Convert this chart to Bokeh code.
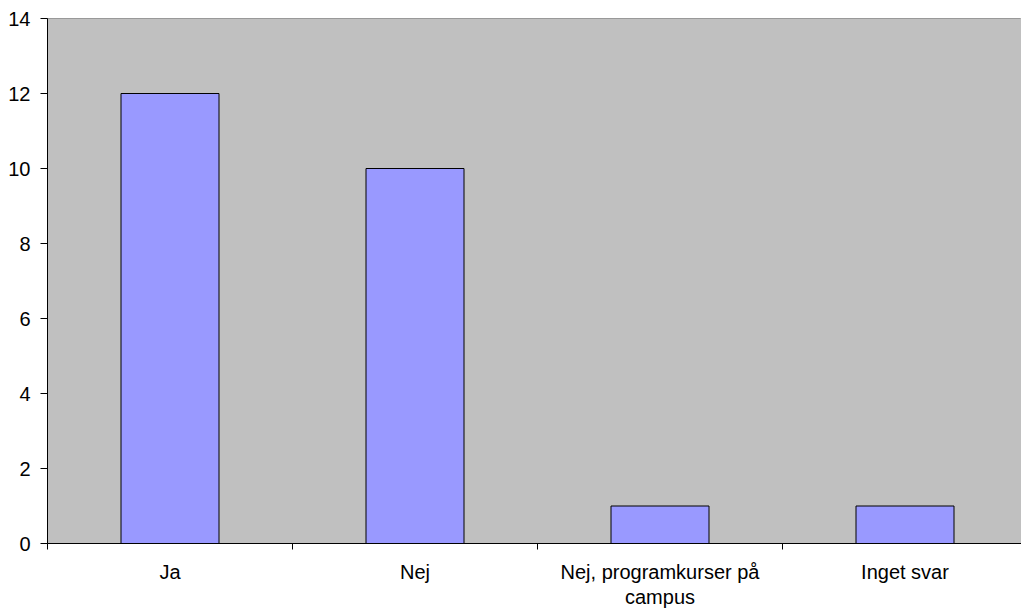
from bokeh.plotting import figure
from bokeh.models import FixedTicker, Range1d
from bokeh.embed import file_html
from bokeh.resources import INLINE

categories = ["Ja", "Nej", "Nej, programkurser på\ncampus", "Inget svar"]
values = [12, 10, 1, 1]
y_ticks = [0, 2, 4, 6, 8, 10, 12, 14]

FONT = "Liberation Sans"

positions = [i + 0.5 for i in range(len(categories))]

p = figure(width=1021, height=610, output_backend="svg", toolbar_location=None,
           x_range=Range1d(0, 974 / 245), y_range=Range1d(0, 14),
           min_border_left=47, min_border_right=0, min_border_top=18, min_border_bottom=0)

p.background_fill_color = "white"
p.border_fill_color = "white"
p.outline_line_color = "#8c8c8c"
p.outline_line_width = 1

# plot area fill
p.quad(left=[0], right=[len(categories)], bottom=[0], top=[14],
       fill_color="#C0C0C0", line_color=None)

p.vbar(x=positions, top=values, width=0.4, bottom=0,
       fill_color="#9999FF", line_color="black", line_width=1)

p.xgrid.visible = False
p.ygrid.ticker = FixedTicker(ticks=y_ticks[1:-1])
p.ygrid.grid_line_color = "black"
p.ygrid.grid_line_width = 1
p.ygrid.level = "underlay"

# y axis
p.yaxis.ticker = FixedTicker(ticks=y_ticks)
p.yaxis.axis_line_color = "black"
p.yaxis.major_tick_line_color = "black"
p.yaxis.major_tick_in = 0
p.yaxis.major_tick_out = 7
p.yaxis.minor_tick_line_color = None
p.yaxis.major_label_standoff = 10
p.yaxis.major_label_text_font = FONT
p.yaxis.major_label_text_font_size = "20px"
p.yaxis.major_label_text_color = "black"

# x axis
p.xaxis.ticker = FixedTicker(ticks=positions, minor_ticks=list(range(len(categories) + 1)))
p.xaxis.major_label_overrides = {pos: cat for pos, cat in zip(positions, categories)}
p.xaxis.axis_line_color = "black"
p.xaxis.major_tick_line_color = None
p.xaxis.major_tick_in = 0
p.xaxis.major_tick_out = 0
p.xaxis.minor_tick_line_color = "black"
p.xaxis.minor_tick_in = 0
p.xaxis.minor_tick_out = 6
p.xaxis.major_label_standoff = 11
p.xaxis.major_label_text_font = FONT
p.xaxis.major_label_text_font_size = "20px"
p.xaxis.major_label_text_color = "black"
p.xaxis.major_label_text_line_height = 1.15

open("out.html", "w").write(file_html(p, INLINE))
